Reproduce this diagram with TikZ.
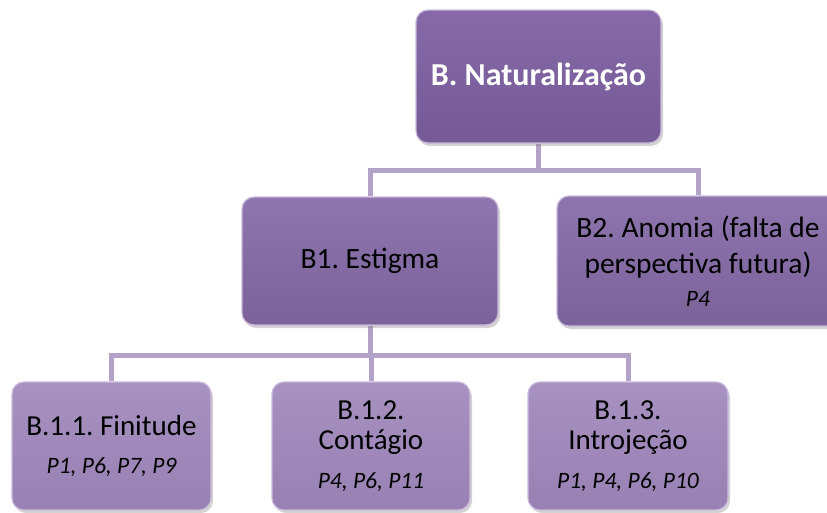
\documentclass[tikz,border=0pt]{standalone}
\usepackage{fontspec}
\setmainfont{Carlito}
\frenchspacing
\usetikzlibrary{shadows,backgrounds}
\definecolor{linec}{HTML}{B3A2C8}
\definecolor{topA}{HTML}{8769A8}
\definecolor{topB}{HTML}{755A96}
\definecolor{midA}{HTML}{8E75AE}
\definecolor{midB}{HTML}{7B6299}
\definecolor{lowA}{HTML}{A892C1}
\definecolor{lowB}{HTML}{9880B3}
\definecolor{edgec}{HTML}{C9BADB}
\tikzset{
  basebox/.style={rounded corners=12pt, draw=edgec, line width=1.2pt, align=center,
    inner sep=0pt, drop shadow={shadow xshift=2pt, shadow yshift=-3pt, opacity=0.35}},
  topbox/.style={basebox, top color=topA, bottom color=topB, text=white,
    font=\fontsize{32}{38}\selectfont\bfseries\frenchspacing},
  midbox/.style={basebox, top color=midA, bottom color=midB, text=black,
    font=\fontsize{29.5}{36}\selectfont\frenchspacing},
  lowbox/.style={basebox, top color=lowA, bottom color=lowB, text=black,
    font=\fontsize{29}{30}\selectfont\frenchspacing}
}
\newcommand{\plst}[1]{{\fontsize{23.5}{27}\selectfont\itshape #1}}
\begin{document}
\begin{tikzpicture}[x=1pt,y=-1pt]
\useasboundingbox (0,0) rectangle (827,512);
\node[topbox, minimum width=245pt, minimum height=133pt] (top) at (538.5,76.5) {B. Naturalização};
\node[midbox, minimum width=256pt, minimum height=128pt] (b1) at (370,261) {B1. Estigma};
\node[midbox, minimum width=282pt, minimum height=130pt] (b2) at (698,261)
  {B2. Anomia (falta de\\perspectiva futura)\\[-3pt]\plst{P4}};
\node[lowbox, minimum width=199pt, minimum height=128pt] (c1) at (111.5,446)
  {B.1.1. Finitude\\[8pt]\plst{P1, P6, P7, P9}};
\node[lowbox, minimum width=198pt, minimum height=128pt] (c2) at (371,446)
  {B.1.2.\\Contágio\\[9pt]\plst{P4, P6, P11}};
\node[lowbox, minimum width=200pt, minimum height=128pt] (c3) at (628,446)
  {B.1.3.\\Introjeção\\[9pt]\plst{P1, P4, P6, P10}};
\begin{pgfonlayer}{background}
\draw[draw=linec, line width=5pt] (top.south) -- ++(0,27) -| (b1.north);
\draw[draw=linec, line width=5pt] (top.south) -- ++(0,27) -| (b2.north);
\draw[draw=linec, line width=5pt] (b1.south) -- ++(0,30) -| (c1.north);
\draw[draw=linec, line width=5pt] (b1.south) -- ++(0,30) -| (c2.north);
\draw[draw=linec, line width=5pt] (b1.south) -- ++(0,30) -| (c3.north);
\end{pgfonlayer}
\end{tikzpicture}
\end{document}
